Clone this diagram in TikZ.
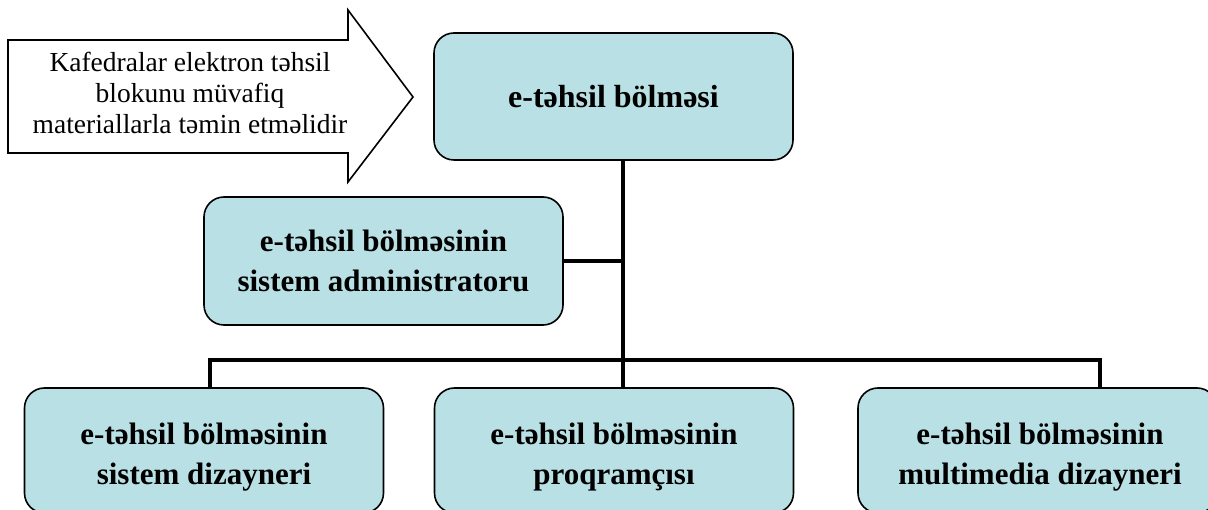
\documentclass[tikz,border=0pt]{standalone}
\usepackage{fontspec}
\setmainfont{Liberation Serif}
\begin{document}
\begin{tikzpicture}[x=1pt,y=-1pt,
  box/.style={draw=black, line width=1.6pt, fill=boxfill, rounded corners=20pt,
    minimum width=359pt, minimum height=128pt, align=center, inner sep=0pt,
    font=\fontsize{31}{40}\selectfont\bfseries},
  boxtext/.style={align=center, inner sep=0pt, font=\fontsize{31}{40}\selectfont\bfseries},
  conn/.style={draw=black, line width=4pt},
  arrowshape/.style={draw=black, line width=1.6pt, fill=white, line join=miter}]
\definecolor{boxfill}{RGB}{185,224,228}
\useasboundingbox (0,0) rectangle (1208,510);
\clip (0,0) rectangle (1208,510);
% arrow
\draw[arrowshape] (8,40) -- (348,40) -- (348,10) -- (413,97) -- (348,182) -- (348,153) -- (8,153) -- cycle;
\node[align=center, font=\fontsize{27.5}{31}\selectfont] (note) at (190,93)
  {Kafedralar elektron təhsil\\ blokunu müvafiq\\ materiallarla təmin etməlidir};
% boxes
\node[box, minimum height=127pt, font=\fontsize{32}{40}\selectfont\bfseries] (top) at (613.5,96.5) {e-təhsil bölməsi};
\node[box] (admin) at (383.5,261) {e-təhsil bölməsinin\\ sistem administratoru};
\node[box, minimum height=125pt] (b1) at (204,450.5) {};
\node[box, minimum height=125pt] (b2) at (614,450.5) {};
\node[box, minimum height=125pt] (b3) at (1037.5,450.5) {};
\node[boxtext] (b1t) at (204,457) {e-təhsil bölməsinin\\ sistem dizayneri};
\node[boxtext] (b2t) at (614,457) {e-təhsil bölməsinin\\ proqramçısı};
\node[boxtext] (b3t) at (1040,457) {e-təhsil bölməsinin\\ multimedia dizayneri};
% connectors
\coordinate (v) at (623,0);
\coordinate (busL) at (210,360);
\coordinate (busR) at (1100,360);
\draw[conn] (top.south -| v) -- (b2.north -| v);
\draw[conn] (admin.east) -- (admin.east -| v);
\draw[conn] (b1.north -| busL) -- (busL) -- (busR) -- (b3.north -| busR);
\end{tikzpicture}
\end{document}
